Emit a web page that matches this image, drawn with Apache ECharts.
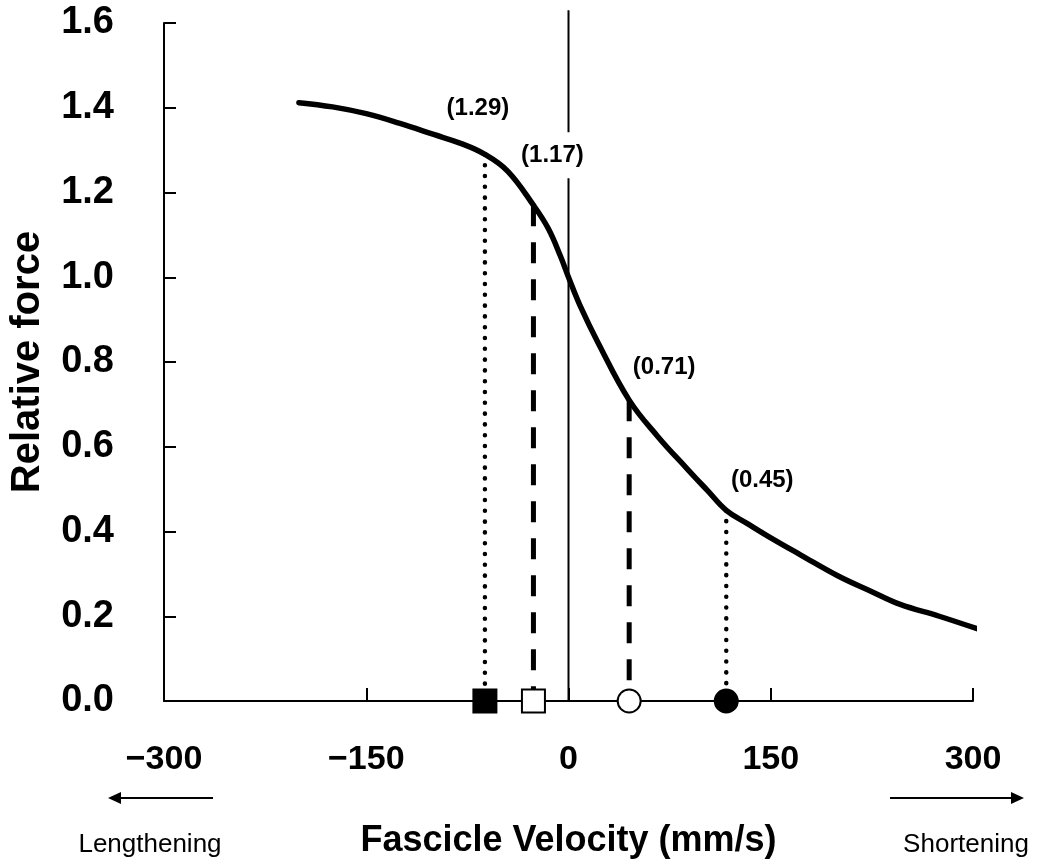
<!DOCTYPE html>
<html>
<head>
<meta charset="utf-8">
<script src="https://cdn.jsdelivr.net/npm/echarts@6/dist/echarts.min.js"></script>
<style>
  html, body { margin: 0; padding: 0; background: #fff; }
  #chart { width: 1053px; height: 868px; }
</style>
</head>
<body>
<div id="chart"></div>
<script>
// Force–velocity curve (relative force vs. fascicle velocity)
const velocity = [-200, -175, -150, -125, -100, -80, -62, -45, -26, -15, -6, 0, 9, 22, 45, 66, 88, 103, 117, 133, 150, 172, 200, 225, 246, 275, 310];
const force    = [1.412, 1.402, 1.386, 1.363, 1.337, 1.316, 1.29, 1.25, 1.17, 1.115, 1.05, 1.0, 0.93, 0.845, 0.71, 0.625, 0.548, 0.497, 0.45, 0.418, 0.385, 0.345, 0.295, 0.258, 0.228, 0.2, 0.163];

// Marked operating points
const markVelocity = [-62, -26, 45, 117];
const markForce    = [1.29, 1.17, 0.71, 0.45];
const dropKinds    = ['dotted', 'dashed', 'dashed', 'dotted'];
const markerShapes = ['rect', 'rect', 'circle', 'circle'];
const markerFilled = [true, false, false, true];

// Zero-velocity reference line extent
const zeroLineTop = 1.63;

// Axis tick labels
const xTickValues = [-300, -150, 0, 150, 300];
const xTickLabels = ['\u2212300', '\u2212150', '0', '150', '300'];

// Where each value label sits relative to its point (px)
const labelOffsets = [[-7, -46], [19, -50], [35, -33], [36, -30]];

const chart = echarts.init(document.getElementById('chart'), null, { renderer: 'canvas' });

const curveData = velocity.map((v, i) => [v, force[i]]);

const dropSeries = markVelocity.map((v, i) => ({
  type: 'line',
  data: [[v, markForce[i]], [v, 0]],
  symbol: 'none',
  clip: false,
  z: 2,
  lineStyle: dropKinds[i] === 'dotted'
    ? { color: '#000', width: 4.5, type: [0.1, 10.7], cap: 'round', opacity: 1 }
    : { color: '#000', width: 5, type: [21, 16], cap: 'butt', opacity: 1 },
  silent: true
}));

const markerSeries = {
  type: 'scatter',
  clip: false,
  z: 5,
  silent: true,
  data: markVelocity.map((v, i) => ({
    value: [v, 0],
    symbol: markerShapes[i],
    itemStyle: {
      color: markerFilled[i] ? '#000' : '#fff',
      borderColor: '#000',
      borderWidth: 2,
      opacity: 1
    }
  })),
  symbolSize: 23
};

const labelSeries = {
  type: 'scatter',
  clip: false,
  z: 3,
  silent: true,
  symbolSize: 0,
  itemStyle: { opacity: 1 },
  data: markVelocity.map((v, i) => ({
    value: [v, markForce[i]],
    label: {
      offset: labelOffsets[i],
      backgroundColor: i === 1 ? '#fff' : 'transparent',
      padding: i === 1 ? [13, 3, 9, 3] : 0
    }
  })),
  label: {
    show: true,
    position: 'inside',
    align: 'center',
    verticalAlign: 'middle',
    formatter: p => '(' + p.value[1].toFixed(2) + ')',
    color: '#000',
    opacity: 1,
    fontFamily: 'Liberation Sans, Arial, sans-serif',
    fontWeight: 'bold',
    fontSize: 24
  }
};

const option = {
  animation: false,
  backgroundColor: '#fff',
  grid: { left: 163, right: 80, top: 23, bottom: 167, containLabel: false },
  xAxis: {
    type: 'value',
    min: -300,
    max: 300,
    interval: 150,
    name: 'Fascicle Velocity (mm/s)',
    nameLocation: 'middle',
    nameGap: 122,
    nameTextStyle: {
      color: '#000',
      fontFamily: 'Liberation Sans, Arial, sans-serif',
      fontWeight: 'bold',
      fontSize: 36
    },
    axisLine: { show: true, onZero: false, lineStyle: { color: '#000', width: 2 } },
    axisTick: { show: true, inside: true, length: 13, lineStyle: { color: '#000', width: 2 } },
    axisLabel: {
      margin: 42,
      color: '#000',
      fontFamily: 'Liberation Sans, Arial, sans-serif',
      fontWeight: 'bold',
      fontSize: 34,
      formatter: v => {
        const k = xTickValues.indexOf(v);
        return k >= 0 ? xTickLabels[k] : '';
      }
    },
    splitLine: { show: false }
  },
  yAxis: {
    type: 'value',
    min: 0,
    max: 1.6,
    interval: 0.2,
    name: 'Relative force',
    nameLocation: 'middle',
    nameGap: 116,
    nameTextStyle: {
      color: '#000',
      fontFamily: 'Liberation Sans, Arial, sans-serif',
      fontWeight: 'bold',
      fontSize: 40
    },
    axisLine: { show: true, onZero: false, lineStyle: { color: '#000', width: 2 } },
    axisTick: { show: true, inside: true, length: 12, lineStyle: { color: '#000', width: 2 } },
    axisLabel: {
      margin: 50,
      color: '#000',
      fontFamily: 'Liberation Sans, Arial, sans-serif',
      fontWeight: 'bold',
      fontSize: 38,
      formatter: v => v.toFixed(1)
    },
    splitLine: { show: false }
  },
  series: [
    {
      type: 'line',
      data: [[0, 0], [0, zeroLineTop]],
      symbol: 'none',
      clip: false,
      z: 1,
      lineStyle: { color: '#000', width: 2 },
      silent: true
    },
    ...dropSeries,
    {
      type: 'line',
      data: curveData,
      symbol: 'none',
      smooth: 0.4,
      clip: false,
      z: 4,
      lineStyle: { color: '#000', width: 5.5, cap: 'round', join: 'round' },
      silent: true
    },
    labelSeries,
    markerSeries
  ],
  graphic: [
    // direction arrows under the axis
    { type: 'line', shape: { x1: 213, y1: 798, x2: 120, y2: 798 }, style: { stroke: '#000', lineWidth: 2 } },
    { type: 'polygon', shape: { points: [[108, 798], [121, 792], [121, 804]] }, style: { fill: '#000' } },
    { type: 'line', shape: { x1: 890, y1: 798, x2: 1012, y2: 798 }, style: { stroke: '#000', lineWidth: 2 } },
    { type: 'polygon', shape: { points: [[1024, 798], [1011, 792], [1011, 804]] }, style: { fill: '#000' } },
    {
      type: 'text', x: 150, y: 845,
      style: { text: 'Lengthening', x: 0, y: 0, align: 'center', verticalAlign: 'middle', fill: '#000',
               font: '26px "Liberation Sans", Arial, sans-serif' }
    },
    {
      type: 'text', x: 966, y: 845,
      style: { text: 'Shortening', x: 0, y: 0, align: 'center', verticalAlign: 'middle', fill: '#000',
               font: '26px "Liberation Sans", Arial, sans-serif' }
    }
  ]
};

chart.setOption(option);
</script>
</body>
</html>
